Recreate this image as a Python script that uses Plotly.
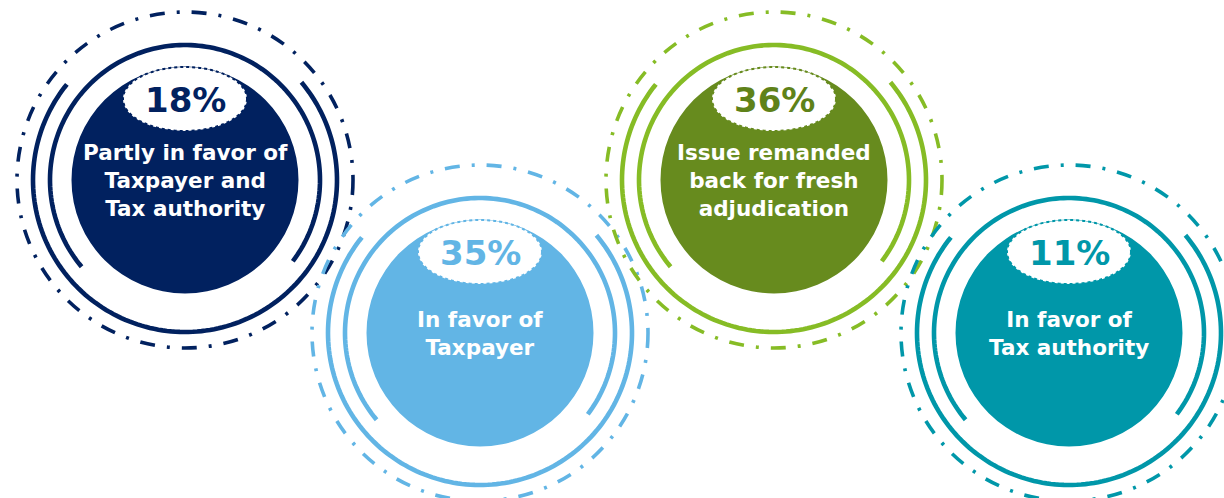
import numpy as np
import plotly.graph_objects as go

# ---- data ----
percentages = [18, 35, 36, 11]
labels = [
    "Partly in favor of<br>Taxpayer and<br>Tax authority",
    "In favor of<br>Taxpayer",
    "Issue remanded<br>back for fresh<br>adjudication",
    "In favor of<br>Tax authority",
]
fill_colors = ["#01215F", "#62B5E5", "#678B1E", "#0097A9"]
ring_colors = ["#01215F", "#62B5E5", "#86BC25", "#0097A9"]
pct_colors = ["#01215F", "#62B5E5", "#5F8219", "#0097A9"]

# ---- layout constants (pixels) ----
W, H = 1224, 498
centers_x = [185, 480, 774, 1069]
centers_y = [180, 333, 180, 333]
R_FILL = 113.5
R_INNER = 135     # arc with gap at bottom
R_OUTER = 152     # arc with gap at top
R_DASH = 168
ELL_DY, ELL_RX, ELL_RY = -81, 62, 32


def arc_path(cx, cy, r, a0, a1, n=160):
    t = np.radians(np.linspace(a0, a1, n))
    xs = cx + r * np.cos(t)
    ys = cy - r * np.sin(t)
    return "M " + " L ".join(f"{x:.2f},{y:.2f}" for x, y in zip(xs, ys))


shapes = []
annotations = []
for i, pct in enumerate(percentages):
    cx, cy = centers_x[i], centers_y[i]
    rc = ring_colors[i]
    # outer dash-dot circle
    shapes.append(dict(type="circle", xref="x", yref="y",
                       x0=cx - R_DASH, x1=cx + R_DASH, y0=cy - R_DASH, y1=cy + R_DASH,
                       line=dict(color=rc, width=3.6, dash="15px,12px,3px,12px")))
    # outer arc (gap at top)
    shapes.append(dict(type="path", xref="x", yref="y",
                       path=arc_path(cx, cy, R_OUTER, 141, 400),
                       line=dict(color=rc, width=4.6)))
    # inner arc (gap at bottom)
    shapes.append(dict(type="path", xref="x", yref="y",
                       path=arc_path(cx, cy, R_INNER, -37, 220),
                       line=dict(color=rc, width=4.6)))
    # filled circle
    shapes.append(dict(type="circle", xref="x", yref="y",
                       x0=cx - R_FILL, x1=cx + R_FILL, y0=cy - R_FILL, y1=cy + R_FILL,
                       fillcolor=fill_colors[i], line=dict(width=0)))
    # white ellipse with dotted border
    ey = cy + ELL_DY
    shapes.append(dict(type="circle", xref="x", yref="y",
                       x0=cx - ELL_RX, x1=cx + ELL_RX, y0=ey - ELL_RY, y1=ey + ELL_RY,
                       fillcolor="white", line=dict(color=fill_colors[i], width=2, dash="dot")))
    annotations.append(dict(x=cx, y=ey + 1, xref="x", yref="y", text=f"{pct}%",
                            showarrow=False, xanchor="center", yanchor="middle",
                            font=dict(family="DejaVu Sans", size=34, color=pct_colors[i],
                                      weight="bold")))
    annotations.append(dict(x=cx, y=cy, xref="x", yref="y", text=labels[i],
                            showarrow=False, xanchor="center", yanchor="middle", align="center",
                            font=dict(family="DejaVu Sans", size=21.5, color="white",
                                      weight="bold")))

fig = go.Figure()
fig.update_layout(
    width=W, height=H, margin=dict(l=0, r=0, t=0, b=0),
    paper_bgcolor="white", plot_bgcolor="white",
    xaxis=dict(range=[0, W], visible=False, fixedrange=True),
    yaxis=dict(range=[H, 0], visible=False, fixedrange=True),
    shapes=shapes, annotations=annotations, showlegend=False,
)
fig.write_html("out.html")
